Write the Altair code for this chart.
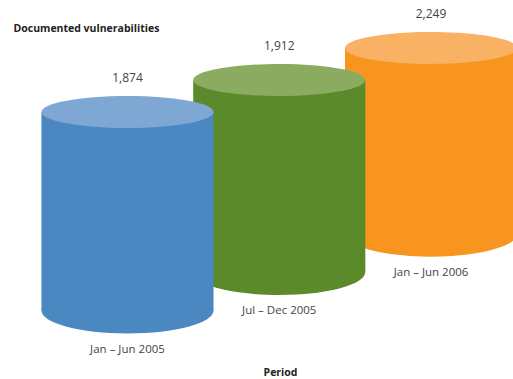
import altair as alt
import pandas as pd

# ---- data ----
categories = ["Jan – Jun 2005", "Jul – Dec 2005", "Jan – Jun 2006"]
values = [1874, 1912, 2249]

# ---- styles ----
body_colors = ["#4b88c1", "#5b8a2b", "#f7951f"]
top_colors = ["#7fa7d4", "#8aab60", "#f9b163"]
FONT = "Open Sans"
TXT = "#444444"

df = pd.DataFrame({"period": categories, "value": values, "idx": list(range(len(categories)))})

W, H = 513, 379
x_scale = alt.Scale(domain=[-0.84, 2.54], nice=False, zero=False)
y_scale = alt.Scale(domain=[-8.34, 3.50], nice=False, zero=False)

x_axis = alt.Axis(title="Period", labels=False, ticks=False, domain=False, grid=False,
                  titleX=280, titleY=-7, titleBaseline="middle", titleAlign="center",
                  titleFont=FONT, titleFontSize=10.5, titleFontWeight="bold", titleColor="#222222")
y_axis = alt.Axis(title="Documented vulnerabilities", labels=False, ticks=False, domain=False,
                  grid=False, titleAngle=0, titleX=13, titleY=28, titleAlign="left",
                  titleBaseline="middle", titleFont=FONT, titleFontSize=10.5,
                  titleFontWeight="bold", titleColor="#222222")

base = alt.Chart(df).transform_calculate(
    xl="datum.idx - 0.567",
    xr="datum.idx + 0.567",
    top="datum.idx",
    bottom="1.2 * datum.idx - 6.2",
    vlab="datum.idx + 1.06",
    clab="1.2 * datum.idx - 6.2 - 1.22",
)

TOP_SHAPE = "M-1,0A1,0.186,0,1,1,1,0A1,0.186,0,1,1,-1,0Z"
BOT_SHAPE = "M-1,0A1,0.267,0,1,1,1,0A1,0.267,0,1,1,-1,0Z"
SIZE = 172 ** 2

layers = []
for i in reversed(range(len(categories))):
    sub = base.transform_filter(f"datum.idx == {i}")
    bottom_ell = sub.mark_point(shape=BOT_SHAPE, filled=True, opacity=1, strokeWidth=0,
                                color=body_colors[i]).encode(
        x=alt.X("idx:Q", scale=x_scale, axis=x_axis),
        y=alt.Y("bottom:Q", scale=y_scale, axis=y_axis),
        size=alt.value(SIZE),
    )
    body = sub.mark_rect(color=body_colors[i], strokeWidth=0).encode(
        x=alt.X("xl:Q", scale=x_scale, axis=x_axis),
        x2="xr:Q",
        y=alt.Y("top:Q", scale=y_scale, axis=y_axis),
        y2="bottom:Q",
    )
    top_ell = sub.mark_point(shape=TOP_SHAPE, filled=True, opacity=1, strokeWidth=0,
                             color=top_colors[i]).encode(
        x=alt.X("idx:Q", scale=x_scale, axis=x_axis),
        y=alt.Y("top:Q", scale=y_scale, axis=y_axis),
        size=alt.value(SIZE),
    )
    layers += [bottom_ell, body, top_ell]

value_labels = base.mark_text(font=FONT, fontSize=12, color=TXT, baseline="middle").encode(
    x=alt.X("idx:Q", scale=x_scale, axis=x_axis),
    y=alt.Y("vlab:Q", scale=y_scale, axis=y_axis),
    text=alt.Text("value:Q", format=","),
)
cat_labels = base.mark_text(font=FONT, fontSize=11.5, color=TXT, baseline="middle").encode(
    x=alt.X("idx:Q", scale=x_scale, axis=x_axis),
    y=alt.Y("clab:Q", scale=y_scale, axis=y_axis),
    text="period:N",
)

chart = alt.layer(*layers, value_labels, cat_labels).properties(
    width=W, height=H, padding=0, autosize=alt.AutoSizeParams(type="none"),
    background="white",
).configure_view(stroke=None)

chart.save("out.html", embed_options={"renderer": "svg", "actions": False})
